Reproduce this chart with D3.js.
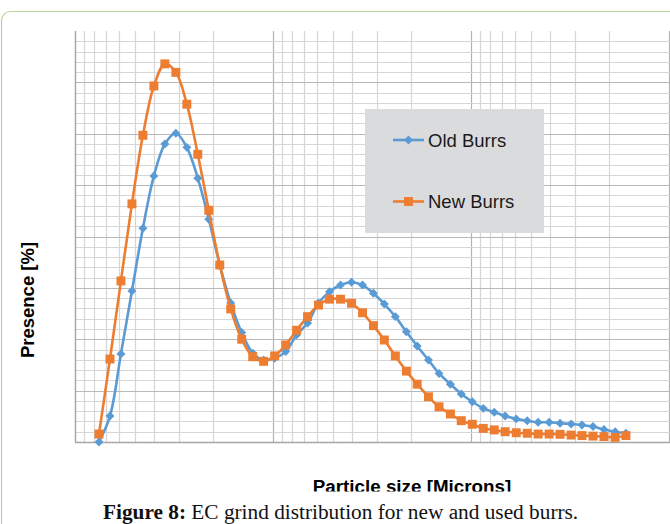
<!DOCTYPE html>
<html>
<head>
<meta charset="utf-8">
<script src="https://cdn.jsdelivr.net/npm/d3@7"></script>
<style>
  body { margin: 0; background: #fff; }
  svg { display: block; }
</style>
</head>
<body>
<script>
// Data
var sizes = [756.6, 665.9, 586.1, 515.8, 453.9, 399.5, 351.6, 309.5, 272.4, 239.8,
             211.0, 185.7, 163.5, 143.9, 126.6, 111.5, 98.1, 86.3, 76.0, 66.9,
             58.9, 51.8, 45.6, 40.1, 35.3, 31.1, 27.4, 24.1, 21.2, 18.7,
             16.4, 14.5, 12.7, 11.2, 9.85, 8.67, 7.63, 6.72, 5.91, 5.20,
             4.58, 4.03, 3.55, 3.12, 2.75, 2.42, 2.13, 1.87, 1.65];

var oldBurrs = [0.00, 1.01, 3.43, 5.88, 8.32, 10.36, 11.60, 12.02, 11.47, 10.27,
                8.67, 6.90, 5.41, 4.26, 3.46, 3.19, 3.26, 3.52, 4.17, 4.63,
                5.41, 5.85, 6.11, 6.22, 6.11, 5.79, 5.37, 4.88, 4.29, 3.74,
                3.19, 2.67, 2.25, 1.87, 1.57, 1.31, 1.16, 1.01, 0.90, 0.83,
                0.77, 0.77, 0.73, 0.70, 0.66, 0.60, 0.49, 0.40, 0.34];

var newBurrs = [0.31, 3.23, 6.27, 9.27, 11.94, 13.86, 14.72, 14.39, 13.15, 11.20,
                9.02, 6.89, 5.18, 4.00, 3.32, 3.14, 3.35, 3.78, 4.35, 4.88,
                5.33, 5.56, 5.56, 5.40, 5.03, 4.53, 3.97, 3.35, 2.76, 2.25,
                1.76, 1.37, 1.09, 0.83, 0.69, 0.53, 0.47, 0.40, 0.36, 0.34,
                0.31, 0.31, 0.30, 0.27, 0.25, 0.23, 0.21, 0.18, 0.25];

var seriesNames = ["Old Burrs", "New Burrs"];
var seriesColors = ["#5b9bd5", "#ed7d31"];

var xDomain = [1000, 1];
var yDomain = [0, 16];
var yMinorStep = 0.4;
var yMajorStep = 2;

// Setup
var width = 670;
var height = 524;
const plot = { left: 75, right: 669, top: 31, bottom: 442 };

var svg = d3.select("body")
  .append("svg")
  .attr("width", width)
  .attr("height", height);

// Page frame
svg.append("rect")
  .attr("x", 1.5)
  .attr("y", 11.5)
  .attr("width", 720)
  .attr("height", 600)
  .attr("rx", 9)
  .attr("fill", "none")
  .attr("stroke", "#b9d79c")
  .attr("stroke-width", 1.2);

const xscale = d3.scaleLog()
  .domain(xDomain)
  .range([plot.left, plot.right]);

const yscale = d3.scaleLinear()
  .domain(yDomain)
  .range([plot.bottom, plot.top]);

// Grid lines
var grid = svg.append("g");

var xGridVals = [];
for (var p = 0; p < 3; p++) {
  for (var k = 1; k <= 9; k++) {
    xGridVals.push(k * Math.pow(10, p));
  }
}
xGridVals.push(1000);

grid.selectAll("line.vgrid")
  .data(xGridVals)
  .enter()
  .append("line")
  .attr("class", "vgrid")
  .attr("x1", d => Math.round(xscale(d)) + 0.5)
  .attr("x2", d => Math.round(xscale(d)) + 0.5)
  .attr("y1", plot.top)
  .attr("y2", plot.bottom)
  .attr("stroke", d => (Math.log10(d) % 1 === 0) ? "#b3b3b3" : "#d6d6d6")
  .attr("stroke-width", 1.2);

var yGridVals = d3.range(yMinorStep, yDomain[1] - 0.01, yMinorStep);

grid.selectAll("line.hgrid")
  .data(yGridVals)
  .enter()
  .append("line")
  .attr("class", "hgrid")
  .attr("x1", plot.left)
  .attr("x2", plot.right + 1)
  .attr("y1", d => Math.round(yscale(d)) + 0.5)
  .attr("y2", d => Math.round(yscale(d)) + 0.5)
  .attr("stroke", d => (Math.abs(d / yMajorStep - Math.round(d / yMajorStep)) < 0.01) ? "#b8b8b8" : "#d6d6d6")
  .attr("stroke-width", 1.2);

// Axis lines
svg.append("line")
  .attr("x1", plot.left + 0.5).attr("x2", plot.left + 0.5)
  .attr("y1", plot.top).attr("y2", plot.bottom)
  .attr("stroke", "#a6a6a6").attr("stroke-width", 1.3);

svg.append("line")
  .attr("x1", plot.left).attr("x2", plot.right + 1)
  .attr("y1", plot.bottom + 0.5).attr("y2", plot.bottom + 0.5)
  .attr("stroke", "#a6a6a6").attr("stroke-width", 1.3);

// Series
var line = d3.line()
  .x(d => xscale(d[0]))
  .y(d => yscale(d[1]))
  .curve(d3.curveCatmullRom.alpha(0.5));

var allSeries = [oldBurrs, newBurrs];
var diamond = d3.symbol().type(d3.symbolSquare).size(40);
var square = d3.symbol().type(d3.symbolSquare).size(80);

allSeries.forEach(function(vals, s) {
  var pts = sizes.map((x, i) => [x, vals[i]]);
  var g = svg.append("g");
  g.append("path")
    .datum(pts)
    .attr("d", line)
    .attr("fill", "none")
    .attr("stroke", seriesColors[s])
    .attr("stroke-width", 2.6)
    .attr("stroke-linejoin", "round");
  g.selectAll("path.mark")
    .data(pts)
    .enter()
    .append("path")
    .attr("class", "mark")
    .attr("d", s === 0 ? diamond : square)
    .attr("transform", function(d) {
      return "translate(" + xscale(d[0]) + "," + yscale(d[1]) + ")" + (s === 0 ? " rotate(45)" : "");
    })
    .attr("fill", seriesColors[s]);
});

// Legend
var legend = svg.append("g");
legend.append("rect")
  .attr("x", 365)
  .attr("y", 109)
  .attr("width", 179)
  .attr("height", 124)
  .attr("fill", "#dadbdd");

seriesNames.forEach(function(name, s) {
  var ly = 140 + s * 61.5;
  legend.append("line")
    .attr("x1", 393).attr("x2", 424)
    .attr("y1", ly).attr("y2", ly)
    .attr("stroke", seriesColors[s])
    .attr("stroke-width", 2.6);
  legend.append("path")
    .attr("d", s === 0 ? diamond : square)
    .attr("transform", "translate(408.5," + ly + ")" + (s === 0 ? " rotate(45)" : ""))
    .attr("fill", seriesColors[s]);
  legend.append("text")
    .attr("x", 428)
    .attr("y", ly + 6.5)
    .style("font-family", "Liberation Sans, Arial, sans-serif")
    .style("font-size", "18.5px")
    .attr("fill", "#1a1a1a")
    .text(name);
});

// Axis titles
svg.append("text")
  .attr("transform", "translate(34,300) rotate(-90)")
  .attr("text-anchor", "middle")
  .style("font-family", "Liberation Sans, Arial, sans-serif")
  .style("font-weight", "bold")
  .style("font-size", "18.5px")
  .attr("fill", "#000")
  .text("Presence [%]");

svg.append("clipPath")
  .attr("id", "titleClip")
  .append("rect")
  .attr("x", 0).attr("y", 0)
  .attr("width", width).attr("height", 491.5);

svg.append("text")
  .attr("x", 412)
  .attr("y", 493)
  .attr("text-anchor", "middle")
  .attr("clip-path", "url(#titleClip)")
  .style("font-family", "Liberation Sans, Arial, sans-serif")
  .style("font-weight", "bold")
  .style("font-size", "18.8px")
  .attr("fill", "#000")
  .text("Particle size [Microns]");

// Caption
var caption = svg.append("text")
  .attr("x", 103)
  .attr("y", 519)
  .style("font-family", "Liberation Serif, Times New Roman, serif")
  .style("font-size", "21.3px")
  .attr("fill", "#111");
caption.append("tspan")
  .style("font-weight", "bold")
  .text("Figure 8:");
caption.append("tspan")
  .text(" EC grind distribution for new and used burrs.");
</script>
</body>
</html>
